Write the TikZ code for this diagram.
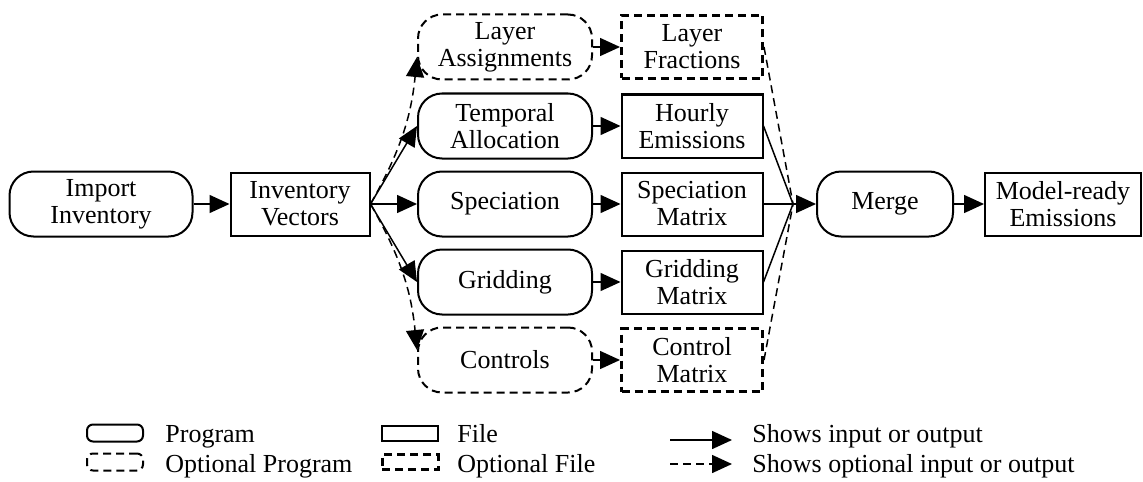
\documentclass[tikz,border=0pt]{standalone}
\usepackage{fontspec}
\setmainfont{Liberation Serif}
\usetikzlibrary{arrows.meta}

\tikzset{
  base/.style={font=\fontsize{13}{13.5}\selectfont, align=center, inner sep=0pt},
  prog/.style={base, draw, line width=1pt, rectangle, rounded corners=12pt,
    minimum width=87pt, minimum height=32.5pt},
  optprog/.style={prog, dash pattern=on 4pt off 2.5pt},
  file/.style={base, draw, line width=1pt, rectangle,
    minimum width=70.5pt, minimum height=31.5pt},
  optfile/.style={file, line width=1.5pt, dash pattern=on 4pt off 2.5pt},
  arr/.style={line width=0.75pt, -{Triangle[length=10pt,width=9pt]}},
  opt/.style={dash pattern=on 4pt off 2.5pt},
  legtext/.style={font=\fontsize{13}{13.5}\selectfont, inner sep=0pt, anchor=base west}
}

\begin{document}
\begin{tikzpicture}[x=0.5pt, y=-0.5pt]
  \useasboundingbox (0,0) rectangle (1143,481);

  % Main chain
  \node[prog, minimum width=91.5pt] (imp) at (101,204) {Import\\Inventory};
  \node[file, minimum width=69.5pt] (iv) at (300,204) {Inventory\\Vectors};

  % Programs
  \node[optprog] (lay) at (505,47) {Layer\\Assignments};
  \node[prog] (tmp) at (505,126) {Temporal\\Allocation};
  \node[prog] (spc) at (505,204) {Speciation};
  \node[prog] (grd) at (505,282) {Gridding};
  \node[optprog] (ctl) at (505,360) {Controls};

  % Files
  \node[optfile] (lf) at (692,47) {Layer\\Fractions};
  \node[file] (he) at (692,126) {Hourly\\Emissions};
  \node[file] (sm) at (692,204) {Speciation\\Matrix};
  \node[file] (gm) at (692,282) {Gridding\\Matrix};
  \node[optfile] (cm) at (692,360) {Control\\Matrix};

  \node[prog, minimum width=68pt] (mrg) at (885,204) {Merge};
  \node[file, minimum width=78pt] (mre) at (1063,204) {Model-ready\\Emissions};

  % Connectors
  \draw[arr] (imp) -- (iv);
  \draw[arr, opt] (iv.east) to[bend right=12] ([yshift=-5pt]lay.west);
  \draw[arr] (iv.east) -- (tmp.west);
  \draw[arr] (iv.east) -- (spc);
  \draw[arr] (iv.east) -- (grd.west);
  \draw[arr, opt] (iv.east) to[bend left=12] ([yshift=5pt]ctl.west);

  \draw[arr, opt] (lay) -- (lf);
  \draw[arr] (tmp) -- (he);
  \draw[arr] (spc) -- (sm);
  \draw[arr] (grd) -- (gm);
  \draw[arr, opt] (ctl) -- (cm);

  % Files converge on merge
  \coordinate (jn) at (793,204);
  \draw[line width=0.75pt, opt] (lf.east) -- (jn);
  \draw[line width=0.75pt] (he.east) -- (jn);
  \draw[line width=0.75pt] (gm.east) -- (jn);
  \draw[line width=0.75pt, opt] (cm.east) -- (jn);
  \draw[arr] (sm) -- (mrg);
  \draw[arr] (mrg) -- (mre);

  % Legend
  \node[prog, rounded corners=3pt, minimum width=28pt, minimum height=8.5pt] (kprog) at (115,433) {};
  \node[optprog, rounded corners=3pt, minimum width=28pt, minimum height=8.5pt] (kopt) at (115,462) {};
  \node[legtext] (kprogt) at (165,442) {Program};
  \node[legtext] (koptt) at (165,472) {Optional Program};

  \node[file, minimum width=28pt, minimum height=7.5pt] (kfile) at (410,433) {};
  \node[optfile, minimum width=28pt, minimum height=7.5pt] (koptf) at (410,462) {};
  \node[legtext] (kfilet) at (457,442) {File};
  \node[legtext] (koptft) at (457,472) {Optional File};

  \coordinate (ka1) at (670,440);
  \coordinate (ka2) at (732,440);
  \coordinate (kb1) at (670,464);
  \coordinate (kb2) at (732,464);
  \draw[arr] (ka1) -- (ka2);
  \draw[arr, opt] (kb1) -- (kb2);
  \node[legtext] (kat) at (752,442) {Shows input or output};
  \node[legtext] (kbt) at (752,472) {Shows optional input or output};
\end{tikzpicture}
\end{document}
